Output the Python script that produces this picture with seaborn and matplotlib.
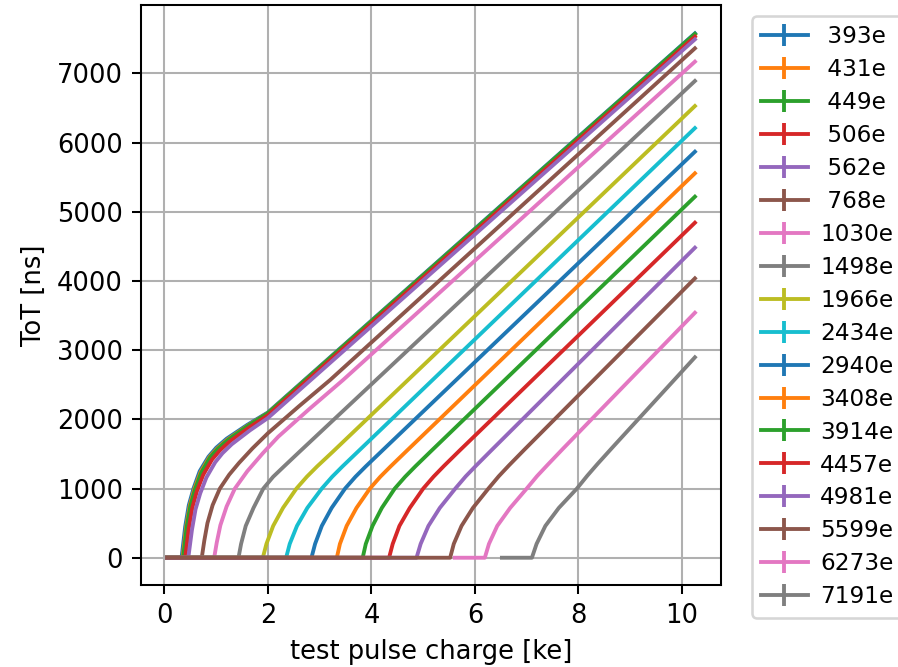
import matplotlib
matplotlib.use("Agg")
import matplotlib.pyplot as plt
import pandas as pd
import seaborn as sns
from matplotlib.lines import Line2D

# thresholds in electrons, one curve each
THRESHOLDS = [393, 431, 449, 506, 562, 768, 1030, 1498, 1966,
              2434, 2940, 3408, 3914, 4457, 4981, 5599, 6273, 7191]

# knots (test pulse charge [ke], ToT [ns])
tot_393 = [(0.05, 0), (0.33, 0), (0.40, 450), (0.47, 760), (0.56, 1000), (0.68, 1250),
           (0.85, 1460), (1.00, 1590), (1.20, 1720), (1.60, 1920), (2.00, 2100), (10.25, 7577)]
tot_431 = [(0.05, 0), (0.35, 0), (0.42, 450), (0.49, 760), (0.58, 1000), (0.70, 1240),
           (0.87, 1455), (1.02, 1580), (1.22, 1710), (1.61, 1910), (2.00, 2090), (10.25, 7560)]
tot_449 = [(0.05, 0), (0.36, 0), (0.43, 450), (0.50, 750), (0.59, 990), (0.71, 1230),
           (0.88, 1450), (1.03, 1575), (1.23, 1705), (1.61, 1905), (2.00, 2090), (10.25, 7570)]
tot_506 = [(0.05, 0), (0.40, 0), (0.47, 430), (0.54, 730), (0.63, 970), (0.75, 1200),
           (0.92, 1420), (1.07, 1550), (1.26, 1680), (1.63, 1880), (2.00, 2060), (10.25, 7530)]
tot_562 = [(0.05, 0), (0.46, 0), (0.53, 400), (0.60, 700), (0.69, 930), (0.81, 1160),
           (0.98, 1380), (1.12, 1510), (1.30, 1640), (1.65, 1840), (2.00, 2020), (10.25, 7490)]
tot_768 = [(0.05, 0), (0.72, 0), (0.77, 250), (0.83, 500), (0.93, 760), (1.07, 1000),
           (1.25, 1200), (1.44, 1370), (1.70, 1580), (2.00, 1800), (2.60, 2190), (3.20, 2568),
           (10.25, 7361)]
tot_1030 = [(0.05, 0), (0.96, 0), (1.01, 220), (1.08, 470), (1.20, 740), (1.36, 1000),
            (1.60, 1250), (1.90, 1510), (2.20, 1750), (2.80, 2150), (3.45, 2568), (10.25, 7168)]
tot_1498 = [(0.05, 0), (1.43, 0), (1.48, 200), (1.57, 460), (1.72, 720), (1.91, 1000),
            (2.10, 1170), (2.31, 1320), (2.60, 1525), (10.25, 6889)]
tot_1966 = [(0.05, 0), (1.90, 0), (1.97, 200), (2.10, 460), (2.29, 720), (2.55, 1000),
            (2.75, 1170), (2.95, 1320), (3.25, 1530), (10.25, 6527)]
tot_2434 = [(0.05, 0), (2.35, 0), (2.42, 200), (2.56, 460), (2.76, 720), (3.04, 1000),
            (3.24, 1170), (3.44, 1320), (3.74, 1535), (10.25, 6208)]
tot_2940 = [(0.05, 0), (2.84, 0), (2.91, 200), (3.04, 460), (3.23, 720), (3.49, 1000),
            (3.69, 1170), (3.89, 1320), (4.19, 1535), (10.25, 5867)]
tot_3408 = [(0.05, 0), (3.33, 0), (3.39, 200), (3.52, 460), (3.71, 720), (3.97, 1000),
            (4.17, 1170), (4.37, 1320), (4.67, 1537), (10.25, 5555)]
tot_3914 = [(0.05, 0), (3.83, 0), (3.89, 200), (4.02, 460), (4.20, 720), (4.45, 1000),
            (4.65, 1170), (4.85, 1322), (5.15, 1540), (10.25, 5217)]
tot_4457 = [(0.05, 0), (4.34, 0), (4.41, 200), (4.54, 460), (4.74, 720), (5.00, 1000),
            (5.20, 1172), (5.40, 1326), (5.70, 1547), (10.25, 4841)]
tot_4981 = [(0.05, 0), (4.87, 0), (4.95, 200), (5.10, 460), (5.32, 720), (5.62, 1000),
            (5.82, 1175), (6.02, 1330), (6.32, 1555), (10.25, 4480)]
tot_5599 = [(0.05, 0), (5.52, 0), (5.59, 200), (5.74, 460), (5.96, 720), (6.26, 1000),
            (6.46, 1178), (6.66, 1337), (6.96, 1566), (10.25, 4037)]
tot_6273 = [(5.61, 0), (6.19, 0), (6.27, 200), (6.43, 460), (6.68, 720), (7.00, 1000),
            (7.20, 1180), (7.40, 1340), (7.70, 1575), (10.25, 3540)]
tot_7191 = [(6.52, 0), (7.10, 0), (7.19, 200), (7.36, 460), (7.62, 720), (7.97, 1000),
            (8.17, 1185), (8.37, 1357), (8.67, 1605), (10.25, 2896)]

CURVES = [tot_393, tot_431, tot_449, tot_506, tot_562, tot_768, tot_1030, tot_1498,
          tot_1966, tot_2434, tot_2940, tot_3408, tot_3914, tot_4457, tot_4981,
          tot_5599, tot_6273, tot_7191]

LABELS = [f"{t:4d}e" for t in THRESHOLDS]

rows = []
for label, knots in zip(LABELS, CURVES):
    for i, (q, tot) in enumerate(knots):
        rows.append({"threshold": label, "order": i, "charge": q, "tot": tot})
df = pd.DataFrame(rows)

tab10 = sns.color_palette("tab10")
colors = [tab10[i % 10] for i in range(len(LABELS))]
palette = dict(zip(LABELS, colors))

DPI = 185
fig = plt.figure(figsize=(898 / DPI, 667 / DPI), dpi=DPI)
ax = fig.add_axes([141 / 898, 82 / 667, 580 / 898, 580 / 667])

for label in LABELS:
    sub = df[df["threshold"] == label]
    sns.lineplot(data=sub, x="charge", y="tot", color=palette[label], sort=False,
                 estimator=None, linewidth=1.5, legend=False, ax=ax)

ax.set_xlim(-0.454, 10.754)
ax.set_ylim(-394, 7987)
ax.set_xticks([0, 2, 4, 6, 8, 10])
ax.set_yticks(range(0, 8000, 1000))
ax.grid(True, color="#b0b0b0", linewidth=0.8)
ax.set_axisbelow(True)
ax.set_xlabel("test pulse charge [ke]")
ax.set_ylabel("ToT [ns]")

handles = [Line2D([0], [0], color=palette[l], linewidth=1.5, marker="|",
                  markersize=8.6, markeredgewidth=1.5) for l in LABELS]
fig.legend(handles=handles, labels=LABELS, loc="upper left",
           bbox_to_anchor=(752 / 898, 1 - 16 / 667), borderaxespad=0,
           fontsize=9, labelspacing=0.43, handletextpad=0.55, numpoints=1)

fig.savefig("out.png", dpi=DPI)
